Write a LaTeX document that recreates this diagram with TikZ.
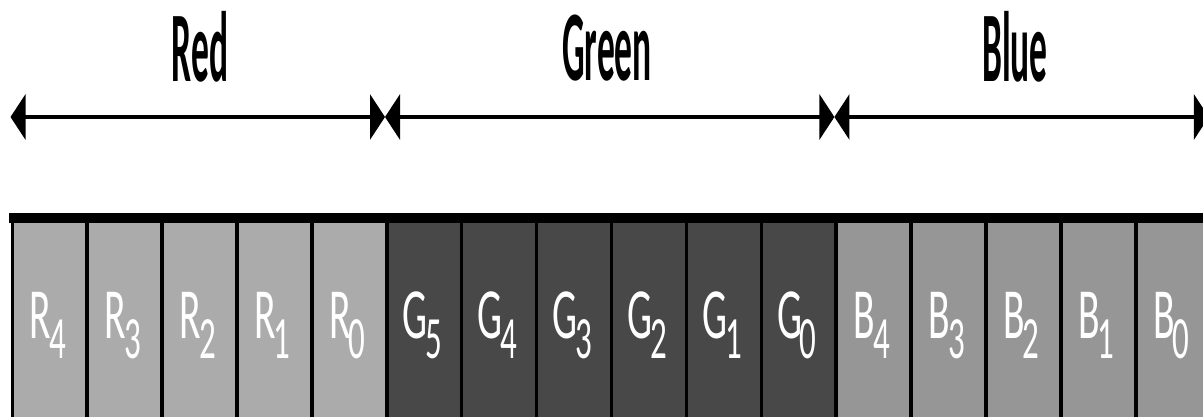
\documentclass[tikz,border=0pt]{standalone}
\usepackage{fontspec}
\setmainfont{Carlito}
\usetikzlibrary{arrows.meta}
\definecolor{redc}{HTML}{ABABAB}
\definecolor{greenc}{HTML}{484848}
\definecolor{bluec}{HTML}{969696}
\newcommand{\celllab}[2]{\scalebox{0.55}[1]{\fontsize{72}{72}\selectfont #1\kern-4pt\raisebox{-20pt}{\fontsize{60}{60}\selectfont #2}}}
\newcommand{\headlab}[1]{\scalebox{0.355}[1]{\fontsize{100}{100}\selectfont\bfseries #1}}
\tikzset{
  cellbox/.style={draw=black, line width=3.5pt, minimum width=74.9pt, minimum height=206pt, inner sep=0pt, anchor=north west},
  celltext/.style={text=white, anchor=base, inner sep=0pt},
  headtext/.style={text=black, anchor=base, inner sep=0pt},
  span/.style={line width=4.5pt, {Triangle[length=15pt,width=45pt]}-{Triangle[length=15pt,width=45pt]}}
}
\begin{document}
\begin{tikzpicture}[x=1pt,y=-1pt]
\useasboundingbox (0,0) rectangle (1203,417);
\fill[white] (0,0) rectangle (1203,417);
% cells
\foreach \k/\c/\l/\s in {0/redc/R/4,1/redc/R/3,2/redc/R/2,3/redc/R/1,4/redc/R/0,
  5/greenc/G/5,6/greenc/G/4,7/greenc/G/3,8/greenc/G/2,9/greenc/G/1,10/greenc/G/0,
  11/bluec/B/4,12/bluec/B/3,13/bluec/B/2,14/bluec/B/1,15/bluec/B/0}{
  \node[cellbox, fill=\c] (cell\k) at ({10.5+74.9*\k},218) {};
  \node[celltext] (lab\k) at ({10.5+74.9*(\k+0.5)},338) {\celllab{\l}{\s}};
}
% top band
\fill[black] (8.5,213) rectangle (1210,223);
% span coordinates
\coordinate (a0) at (10.5,117);
\coordinate (a1) at (385,117);
\coordinate (a2) at (834.4,117);
\coordinate (a3) at (1208.9,117);
\draw[span] (a0) -- (a1);
\draw[span] (a1) -- (a2);
\draw[span] (a2) -- (a3);
% headers
\node[headtext] (red) at (200,82) {\headlab{Red}};
\node[headtext] (green) at (607,81) {\headlab{Green}};
\node[headtext] (blue) at (1015,82) {\headlab{Blue}};
\end{tikzpicture}
\end{document}
